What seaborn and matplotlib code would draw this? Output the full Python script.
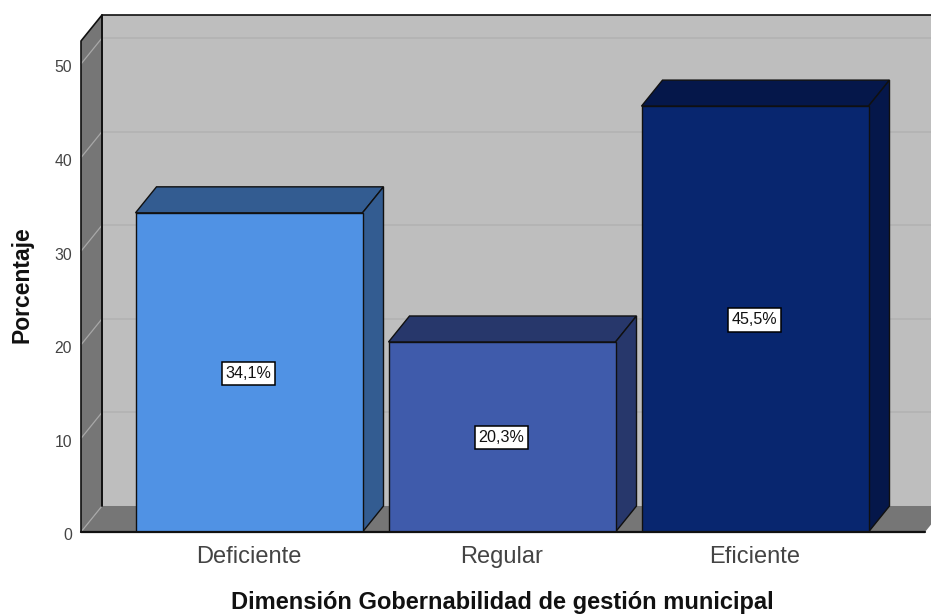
import seaborn as sns
import matplotlib.pyplot as plt
import pandas as pd
from matplotlib.patches import Polygon
from matplotlib.transforms import ScaledTranslation

categories = ["Deficiente", "Regular", "Eficiente"]
percentages = [34.1, 20.3, 45.5]
front_colors = ["#5092E4", "#3F5BAB", "#08266F"]
top_colors = ["#335C91", "#27376B", "#05174A"]
side_colors = ["#335C91", "#27376B", "#05174A"]
y_ticks = [0, 10, 20, 30, 40, 50]

sns.set_theme(style="white")
plt.rcParams['font.family'] = ['Liberation Sans', 'DejaVu Sans']

W, H = 931, 615
fig = plt.figure(figsize=(W / 100, H / 100), dpi=100)
# axes box is the front plane of the 3d frame
ax = fig.add_axes([81 / W, (H - 532) / H, (925 - 81) / W, (532 - 41) / H])

df = pd.DataFrame({"cat": categories, "pct": percentages})
sns.barplot(data=df, x="cat", y="pct", hue="cat", palette=front_colors, saturation=1,
            width=227 / 253, edgecolor="#101010", linewidth=1.0, legend=False, zorder=5, ax=ax)

x_min, x_max = -168 / 253, 676 / 253
y_max = 491 / 9.36
ax.set_xlim(x_min, x_max)
ax.set_ylim(0, y_max)

# depth of the fake 3d, in data units
dx = 21 / 253
dy = 26 / 9.36

wall_line = "#111111"
ax.add_patch(Polygon([(x_min + dx, dy), (x_max + dx, dy), (x_max + dx, y_max + dy), (x_min + dx, y_max + dy)],
                     facecolor="#BEBEBE", edgecolor="none", clip_on=False, zorder=0))
ax.add_patch(Polygon([(x_min, 0), (x_min + dx, dy), (x_min + dx, y_max + dy), (x_min, y_max)],
                     facecolor="#767676", edgecolor="none", clip_on=False, zorder=1))
ax.add_patch(Polygon([(x_min, 0), (x_max, 0), (x_max + dx, dy), (x_min + dx, dy)],
                     facecolor="#767676", edgecolor="none", clip_on=False, zorder=1))

for t in y_ticks:
    ax.plot([x_min + dx, x_max + dx], [t + dy, t + dy], color="#B2B2B2", lw=1.2, clip_on=False, zorder=0.5)
    ax.plot([x_min, x_min + dx], [t, t + dy], color="#A8A8A8", lw=0.9, clip_on=False, zorder=2)
ax.plot([x_min + dx, x_max + dx], [dy, dy], color="#BEBEBE", lw=1.3, clip_on=False, zorder=0.6)

# frame edges
ax.plot([x_min, x_min, x_min + dx, x_max + dx], [0, y_max, y_max + dy, y_max + dy], color=wall_line, lw=1.2,
        clip_on=False, zorder=3)
ax.plot([x_min + dx, x_min + dx], [dy, y_max + dy], color=wall_line, lw=1.4, clip_on=False, zorder=3)
ax.plot([x_min, x_max], [0, 0], color=wall_line, lw=1.6, clip_on=False, zorder=7)

# top and side faces of each bar
for bar, top_c, side_c, v in zip(ax.patches, top_colors, side_colors, percentages):
    x0, x1 = bar.get_x(), bar.get_x() + bar.get_width()
    ax.add_patch(Polygon([(x0, v), (x1, v), (x1 + dx, v + dy), (x0 + dx, v + dy)],
                         facecolor=top_c, edgecolor="#101010", linewidth=1.0, zorder=4))
    ax.add_patch(Polygon([(x1, 0), (x1 + dx, dy), (x1 + dx, v + dy), (x1, v)],
                         facecolor=side_c, edgecolor="#101010", linewidth=1.0, zorder=4))

for i, v in enumerate(percentages):
    ax.text(i - 0.002, v / 2 - 0.1, f"{v:.1f}%".replace(".", ","), ha="center", va="center", fontsize=11.6, color="#111111",
            zorder=8, bbox=dict(boxstyle="square,pad=0.25", facecolor="white", edgecolor="black", linewidth=1.1))

ax.set_yticks(y_ticks)
ax.tick_params(axis="y", length=0, pad=6.5, labelsize=11.3, labelcolor="#444444")
ax.tick_params(axis="x", length=0, pad=10, labelsize=17, labelcolor="#444444")
shift = ScaledTranslation(0, -2.5 / 100, fig.dpi_scale_trans)
for lab in ax.get_yticklabels():
    lab.set_transform(lab.get_transform() + shift)

ax.set_xlabel("Dimensión Gobernabilidad de gestión municipal", fontsize=17, fontweight="bold", color="#111111")
ax.set_ylabel("Porcentaje", fontsize=16.5, fontweight="bold", color="#111111")
ax.xaxis.set_label_coords((502 - 81) / (925 - 81), (532 - 602) / (532 - 41), transform=ax.transAxes)
ax.xaxis.label.set_va("center")
ax.yaxis.set_label_coords((22 - 81) / (925 - 81), (532 - 285) / (532 - 41), transform=ax.transAxes)
ax.yaxis.label.set_va("center")
sns.despine(ax=ax, left=True, bottom=True)

fig.savefig("out.png", dpi=100)
